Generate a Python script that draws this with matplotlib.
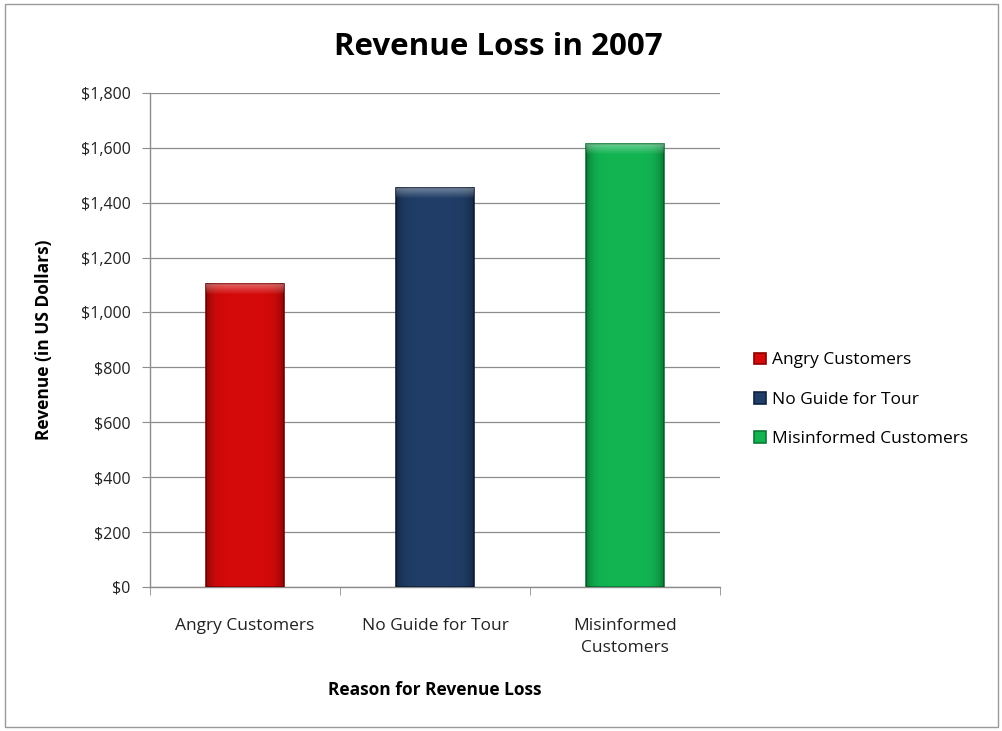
import numpy as np
import matplotlib.pyplot as plt
from matplotlib.ticker import FuncFormatter
from matplotlib.patches import Rectangle

reasons = ['Angry Customers', 'No Guide for Tour', 'Misinformed Customers']
tick_labels = ['Angry Customers', 'No Guide for Tour', 'Misinformed\nCustomers']
revenue = [1105, 1455, 1612]
colors = ['#D40A0A', '#1F3D66', '#12B452']
edge_colors = ['#8E0000', '#10223F', '#0A7A36']

plt.rcParams['font.family'] = ['Open Sans', 'DejaVu Sans']

fig = plt.figure(figsize=(10.03, 7.31), dpi=100)
ax = fig.add_axes([0.1496, 0.197, 0.5685, 0.676])

x = range(len(reasons))
bars = ax.bar(x, revenue, width=0.41, color=colors, edgecolor=edge_colors,
              linewidth=1.2, zorder=3)
for b, lab in zip(bars, reasons):
    b.set_label(lab)

# bevel look: darker sides, light band fading down from the top
shade = np.ones((1, 40, 4))
shade[..., :3] = 0
prof = np.linspace(-1, 1, 40)
shade[0, :, 3] = 0.3 * np.abs(prof) ** 6
top = np.ones((12, 1, 4))
top[:, 0, 3] = np.linspace(0.35, 0.0, 12)  # row 0 is drawn at the top
for b in bars:
    x0, w, h = b.get_x(), b.get_width(), b.get_height()
    ax.imshow(shade, extent=[x0, x0 + w, 0, h], aspect='auto', zorder=4,
              interpolation='bilinear')
    ax.imshow(top, extent=[x0, x0 + w, h - 40, h], aspect='auto', zorder=4,
              interpolation='bilinear')

ax.set_xlim(-0.5, 2.5)
ax.set_ylim(0, 1800)
ax.set_yticks(range(0, 1801, 200))
ax.yaxis.set_major_formatter(FuncFormatter(lambda v, p: '${:,.0f}'.format(v)))
ax.grid(axis='y', color='#8c8c8c', linewidth=0.9, zorder=0)

ax.set_xticks(list(x))
ax.set_xticklabels(tick_labels, fontsize=12.5, color='#222222', linespacing=1.55)
ax.set_xticks([-0.5, 0.5, 1.5, 2.5], minor=True)
ax.tick_params(axis='x', which='major', length=0, pad=22)
ax.tick_params(axis='x', which='minor', length=6, color='#8c8c8c', direction='out')
ax.tick_params(axis='y', labelsize=11.5, labelcolor='#222222', length=6,
               color='#8c8c8c', pad=8)

for s in ['top', 'right']:
    ax.spines[s].set_visible(False)
for s in ['left', 'bottom']:
    ax.spines[s].set_color('#8c8c8c')
    ax.spines[s].set_linewidth(1.0)

ax.set_xlabel('Reason for Revenue Loss', fontsize=12.5, fontweight='bold', labelpad=18)
ax.set_ylabel('Revenue (in US Dollars)', fontsize=12.5, fontweight='bold', labelpad=20)
fig.text(0.497, 0.936, 'Revenue Loss in 2007', fontsize=22.5, fontweight='bold',
         ha='center', va='center')

leg = fig.legend(handles=list(bars), labels=reasons, loc='center left',
                 bbox_to_anchor=(0.752, 0.453), frameon=False, fontsize=12.5,
                 handlelength=0.65, handleheight=0.65, handletextpad=0.35,
                 labelspacing=1.35, borderpad=0, borderaxespad=0)

fig.patches.append(Rectangle((0.005, 0.005), 0.99, 0.99, transform=fig.transFigure,
                             fill=False, edgecolor='#9a9a9a', linewidth=1.0))

fig.savefig('out.png', dpi=100)
